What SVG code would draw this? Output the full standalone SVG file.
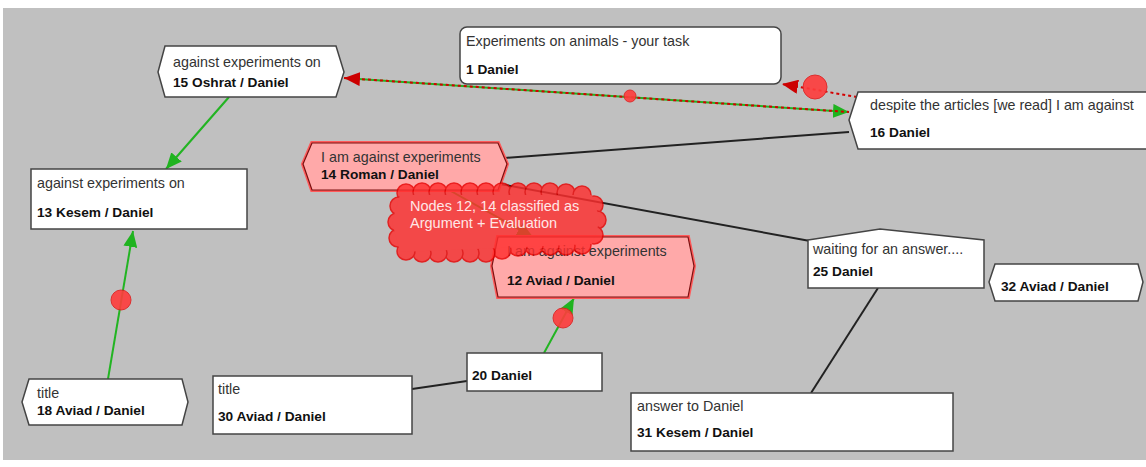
<svg xmlns="http://www.w3.org/2000/svg" width="1146" height="467" viewBox="0 0 1146 467">
  <style>
    .box { fill: #ffffff; stroke: #444444; stroke-width: 1.5; }
    .hot { fill: #ffa9a9; stroke: #7a1010; stroke-width: 1.2; }
    .glow { fill: none; stroke: #ff5a5a; stroke-width: 4; }
    .t { font-family: "Liberation Sans", Arial, sans-serif; font-size: 14.3px; fill: #333333; }
    .b { font-family: "Liberation Sans", Arial, sans-serif; font-size: 13.7px; font-weight: bold; fill: #111111; }
    .cloudtxt { font-family: "Liberation Sans", Arial, sans-serif; font-size: 14.5px; fill: #ffe6e6; }
    .link { fill: none; stroke: #222222; stroke-width: 2; }
    .sup { fill: none; stroke: #22b422; stroke-width: 2; }
    .opp { fill: none; stroke: #d40000; stroke-width: 2; stroke-dasharray: 3 3; }
    .dot { fill: #ff3c3c; stroke: #e02020; stroke-width: 1; opacity: 0.9; }
  </style>
  <defs>
    <marker id="arrowGreen" markerUnits="userSpaceOnUse" markerWidth="18" markerHeight="14" refX="16" refY="7" orient="auto">
      <path d="M0,0 L16,7 L0,14 z" fill="#1fb31f"/>
    </marker>
    <marker id="arrowRed" markerUnits="userSpaceOnUse" markerWidth="18" markerHeight="14" refX="16" refY="7" orient="auto-start-reverse">
      <path d="M0,0 L16,7 L0,14 z" fill="#cc0000"/>
    </marker>
  </defs>

  <!-- canvas -->
  <rect x="0" y="0" width="1146" height="467" fill="#ffffff"/>
  <rect x="3" y="8" width="1143" height="452" fill="#c0c0c0"/>

  <!-- connectors -->
  <g id="connectors">
    <line class="link" x1="505" y1="158" x2="849" y2="132"/>
    <line class="link" x1="500" y1="184" x2="810" y2="241"/>
    <line class="link" x1="412" y1="389" x2="467" y2="381"/>
    <line class="link" x1="878" y1="288" x2="811" y2="393"/>
    <line class="sup" x1="229" y1="97" x2="166" y2="169" marker-end="url(#arrowGreen)"/>
    <line class="sup" x1="108" y1="379" x2="133" y2="231" marker-end="url(#arrowGreen)"/>
    <circle class="dot" cx="121" cy="300" r="10"/>
    <line class="sup" x1="449" y1="190" x2="533" y2="237" marker-end="url(#arrowGreen)"/>
    <line class="sup" x1="544" y1="353" x2="574" y2="298" marker-end="url(#arrowGreen)"/>
    <circle class="dot" cx="563" cy="318" r="10"/>
    <line class="sup" x1="344" y1="78" x2="849" y2="112" marker-end="url(#arrowGreen)"/>
    <line class="opp" x1="344" y1="78" x2="849" y2="112" marker-start="url(#arrowRed)"/>
    <circle class="dot" cx="630" cy="96" r="6"/>
    <line class="opp" x1="857" y1="97" x2="782" y2="84" marker-end="url(#arrowRed)"/>
    <circle class="dot" cx="815" cy="87" r="12"/>
  </g>

  <!-- nodes -->
  <g id="node1">
    <rect class="box" x="460" y="27" width="321" height="57" rx="7"/>
    <text class="t" x="466" y="46">Experiments on animals - your task</text>
    <text class="b" x="466" y="74">1 Daniel</text>
  </g>
  <g id="node15">
    <polygon class="box" points="165,46 336,46 344,72 336,97 165,97 158,72"/>
    <text class="t" x="173" y="67">against experiments on</text>
    <text class="b" x="173" y="87">15 Oshrat / Daniel</text>
  </g>
  <g id="node16">
    <polygon class="box" points="858,92 1150,92 1150,149 858,149 849,120"/>
    <text class="t" x="870" y="110">despite the articles [we read] I am against</text>
    <text class="b" x="870" y="137">16 Daniel</text>
  </g>
  <g id="node13">
    <rect class="box" x="31" y="169" width="216" height="60"/>
    <text class="t" x="37" y="188">against experiments on</text>
    <text class="b" x="37" y="217">13 Kesem / Daniel</text>
  </g>
  <g id="node14">
    <polygon class="glow" points="312,143 498,143 507,164 498,190 312,190 303,164"/>
    <polygon class="hot" points="312,143 498,143 507,164 498,190 312,190 303,164"/>
    <text class="t" x="321" y="162">I am against experiments</text>
    <text class="b" x="321" y="179">14 Roman / Daniel</text>
  </g>
  <g id="node12">
    <polygon class="glow" points="498,237 688,237 694,266 688,297 498,297 492,266"/>
    <polygon class="hot" points="498,237 688,237 694,266 688,297 498,297 492,266"/>
    <text class="t" x="507" y="256">I am against experiments</text>
    <text class="b" x="507" y="285">12 Aviad / Daniel</text>
  </g>
  <g id="node25">
    <polygon class="box" points="808,240 880,229 984,240 984,288 808,288"/>
    <text class="t" x="813" y="254">waiting for an answer....</text>
    <text class="b" x="813" y="276">25 Daniel</text>
  </g>
  <g id="node32">
    <polygon class="box" points="995,264 1138,264 1143,282 1138,301 995,301 989,282"/>
    <text class="b" x="1001" y="291">32 Aviad / Daniel</text>
  </g>
  <g id="node18">
    <polygon class="box" points="29,379 182,379 188,402 182,425 29,425 22,402"/>
    <text class="t" x="37" y="398">title</text>
    <text class="b" x="37" y="415">18 Aviad / Daniel</text>
  </g>
  <g id="node30">
    <rect class="box" x="213" y="376" width="199" height="58"/>
    <text class="t" x="218" y="394">title</text>
    <text class="b" x="218" y="421">30 Aviad / Daniel</text>
  </g>
  <g id="node20">
    <rect class="box" x="467" y="353" width="135" height="38"/>
    <text class="b" x="472" y="380">20 Daniel</text>
  </g>
  <g id="node31">
    <rect class="box" x="631" y="393" width="322" height="58"/>
    <text class="t" x="637" y="411">answer to Daniel</text>
    <text class="b" x="637" y="437">31 Kesem / Daniel</text>
  </g>

  <!-- classification cloud -->
  <g id="cloud">
    <g opacity="0.82">
      <g fill="#ff2e2e" stroke="#e80000" stroke-width="1.5">
        <circle cx="406" cy="193" r="9"/><circle cx="422" cy="192" r="9"/><circle cx="438" cy="192" r="9"/>
        <circle cx="454" cy="192" r="9"/><circle cx="470" cy="192" r="9"/><circle cx="486" cy="192" r="9"/>
        <circle cx="502" cy="192" r="9"/><circle cx="518" cy="192" r="9"/><circle cx="534" cy="192" r="9"/>
        <circle cx="550" cy="192" r="9"/><circle cx="566" cy="193" r="9"/><circle cx="582" cy="195" r="9"/>
        <circle cx="594" cy="205" r="9"/><circle cx="597" cy="220" r="9"/><circle cx="594" cy="235" r="9"/>
        <circle cx="582" cy="245" r="9"/><circle cx="566" cy="246" r="9"/><circle cx="550" cy="246" r="9"/>
        <circle cx="534" cy="246" r="9"/><circle cx="518" cy="247" r="9"/><circle cx="502" cy="250" r="9"/>
        <circle cx="486" cy="253" r="9"/><circle cx="470" cy="253" r="9"/><circle cx="454" cy="253" r="9"/>
        <circle cx="438" cy="253" r="9"/><circle cx="422" cy="253" r="9"/><circle cx="406" cy="251" r="9"/>
        <circle cx="398" cy="238" r="9"/><circle cx="397" cy="222" r="9"/><circle cx="399" cy="206" r="9"/>
      </g>
      <path d="M400,195 L592,195 L600,220 L592,244 L500,248 L400,252 L392,222 Z" fill="#ff2e2e"/>
    </g>
    <text class="cloudtxt" x="410" y="211">Nodes 12, 14 classified as</text>
    <text class="cloudtxt" x="410" y="228">Argument + Evaluation</text>
  </g>
</svg>
